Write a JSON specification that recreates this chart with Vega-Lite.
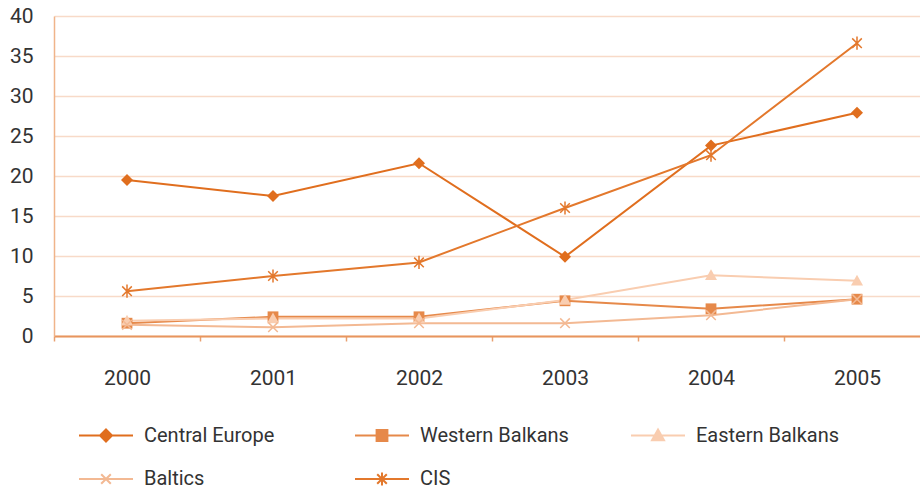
{
  "$schema": "https://vega.github.io/schema/vega-lite/v6.json",
  "width": 866,
  "height": 320,
  "autosize": {"type": "none"},
  "padding": {"left": 54, "top": 16, "right": 0, "bottom": 154},
  "background": "white",
  "config": {
    "view": {"stroke": null},
    "font": "Roboto"
  },
  "data": {
    "values": [
      {"year": "2000", "region": "Central Europe", "value": 19.5},
      {"year": "2001", "region": "Central Europe", "value": 17.5},
      {"year": "2002", "region": "Central Europe", "value": 21.6},
      {"year": "2003", "region": "Central Europe", "value": 9.9},
      {"year": "2004", "region": "Central Europe", "value": 23.8},
      {"year": "2005", "region": "Central Europe", "value": 27.9},
      {"year": "2000", "region": "Western Balkans", "value": 1.6},
      {"year": "2001", "region": "Western Balkans", "value": 2.4},
      {"year": "2002", "region": "Western Balkans", "value": 2.4},
      {"year": "2003", "region": "Western Balkans", "value": 4.4},
      {"year": "2004", "region": "Western Balkans", "value": 3.4},
      {"year": "2005", "region": "Western Balkans", "value": 4.6},
      {"year": "2000", "region": "Eastern Balkans", "value": 1.9},
      {"year": "2001", "region": "Eastern Balkans", "value": 2.2},
      {"year": "2002", "region": "Eastern Balkans", "value": 2.2},
      {"year": "2003", "region": "Eastern Balkans", "value": 4.5},
      {"year": "2004", "region": "Eastern Balkans", "value": 7.6},
      {"year": "2005", "region": "Eastern Balkans", "value": 6.9},
      {"year": "2000", "region": "Baltics", "value": 1.4},
      {"year": "2001", "region": "Baltics", "value": 1.1},
      {"year": "2002", "region": "Baltics", "value": 1.6},
      {"year": "2003", "region": "Baltics", "value": 1.6},
      {"year": "2004", "region": "Baltics", "value": 2.6},
      {"year": "2005", "region": "Baltics", "value": 4.6},
      {"year": "2000", "region": "CIS", "value": 5.6},
      {"year": "2001", "region": "CIS", "value": 7.5},
      {"year": "2002", "region": "CIS", "value": 9.2},
      {"year": "2003", "region": "CIS", "value": 16.0},
      {"year": "2004", "region": "CIS", "value": 22.6},
      {"year": "2005", "region": "CIS", "value": 36.6}
    ]
  },
  "encoding": {
    "x": {
      "field": "year",
      "type": "ordinal",
      "scale": {"type": "band", "padding": 0, "range": [0, 876]},
      "axis": {
        "title": null,
        "labelAngle": 0,
        "labelFontSize": 21,
        "labelColor": "#333333",
        "labelPadding": 26,
        "tickBand": "extent",
        "tickSize": 5,
        "tickWidth": 1.5,
        "tickColor": "#e8a070",
        "domainColor": "#e8955e",
        "domainWidth": 2,
        "grid": false
      }
    },
    "y": {
      "field": "value",
      "type": "quantitative",
      "scale": {"domain": [0, 40], "nice": false},
      "axis": {
        "title": null,
        "values": [0, 5, 10, 15, 20, 25, 30, 35, 40],
        "labelFontSize": 21,
        "labelColor": "#333333",
        "labelPadding": 21,
        "ticks": false,
        "domainColor": "#f0b48a",
        "domainWidth": 1.5,
        "gridColor": "#f8dac8",
        "gridWidth": 1.5
      }
    },
    "color": {
      "field": "region",
      "type": "nominal",
      "scale": {
        "domain": ["Central Europe", "Western Balkans", "Eastern Balkans", "Baltics", "CIS"],
        "range": ["#e06e1e", "#e6894a", "#f9cdb0", "#f3b993", "#e3782c"]
      },
      "legend": {
        "title": null,
        "orient": "none",
        "direction": "horizontal",
        "legendX": 21,
        "legendY": 409,
        "columns": 3,
        "gridAlign": "all",
        "columnPadding": 58,
        "rowPadding": 22,
        "symbolSize": 144,
        "symbolStrokeWidth": 2,
        "symbolOpacity": 1,
        "symbolOffset": 21,
        "labelOffset": 28,
        "labelFontSize": 20,
        "labelColor": "#333333",
        "labelLimit": 300
      }
    }
  },
  "layer": [
    {
      "transform": [{"filter": "false"}],
      "mark": {"type": "point", "filled": true, "opacity": 1},
      "encoding": {
        "shape": {
          "field": "region",
          "type": "nominal",
          "scale": {
            "domain": ["Central Europe", "Western Balkans", "Eastern Balkans", "Baltics", "CIS"],
            "range": [
              "M-4.5,0H4.5M0,-1L1,0L0,1L-1,0Z",
              "M-4.5,0H4.5M-0.9,-0.9H0.9V0.9H-0.9Z",
              "M-4.5,0H4.5M0,-1L1,0.8H-1Z",
              "M-4.5,0H4.5M-0.8,-0.8L0.8,0.8M-0.8,0.8L0.8,-0.8",
              "M-4.5,0H4.5M-0.8,-0.8L0.8,0.8M-0.8,0.8L0.8,-0.8M0,-1.1V1.1"
            ]
          }
        },
        "stroke": {
          "field": "region",
          "type": "nominal",
          "scale": {
            "domain": ["Central Europe", "Western Balkans", "Eastern Balkans", "Baltics", "CIS"],
            "range": ["#e06e1e", "#e6894a", "#f9cdb0", "#f3b993", "#e3782c"]
          }
        }
      }
    },
    {
      "mark": {"type": "line", "strokeWidth": 2},
      "encoding": {
        "order": {"field": "year"}
      }
    },
    {
      "transform": [{"filter": "datum.region === 'Central Europe'"}],
      "mark": {"type": "point", "filled": true, "opacity": 1, "size": 144, "shape": "M0,-1L1,0L0,1L-1,0Z"}
    },
    {
      "transform": [{"filter": "datum.region === 'Western Balkans'"}],
      "mark": {"type": "point", "filled": true, "opacity": 1, "size": 144, "shape": "M-0.9,-0.9H0.9V0.9H-0.9Z"}
    },
    {
      "transform": [{"filter": "datum.region === 'Eastern Balkans'"}],
      "mark": {"type": "point", "filled": true, "opacity": 1, "size": 144, "shape": "M0,-1L1,0.8H-1Z"}
    },
    {
      "transform": [{"filter": "datum.region === 'Baltics'"}],
      "mark": {"type": "point", "filled": false, "opacity": 1, "size": 144, "strokeWidth": 1.5, "shape": "M-0.8,-0.8L0.8,0.8M-0.8,0.8L0.8,-0.8"}
    },
    {
      "transform": [{"filter": "datum.region === 'CIS'"}],
      "mark": {"type": "point", "filled": false, "opacity": 1, "size": 144, "strokeWidth": 1.5, "shape": "M-0.8,-0.8L0.8,0.8M-0.8,0.8L0.8,-0.8M0,-1.1V1.1"}
    }
  ]
}
